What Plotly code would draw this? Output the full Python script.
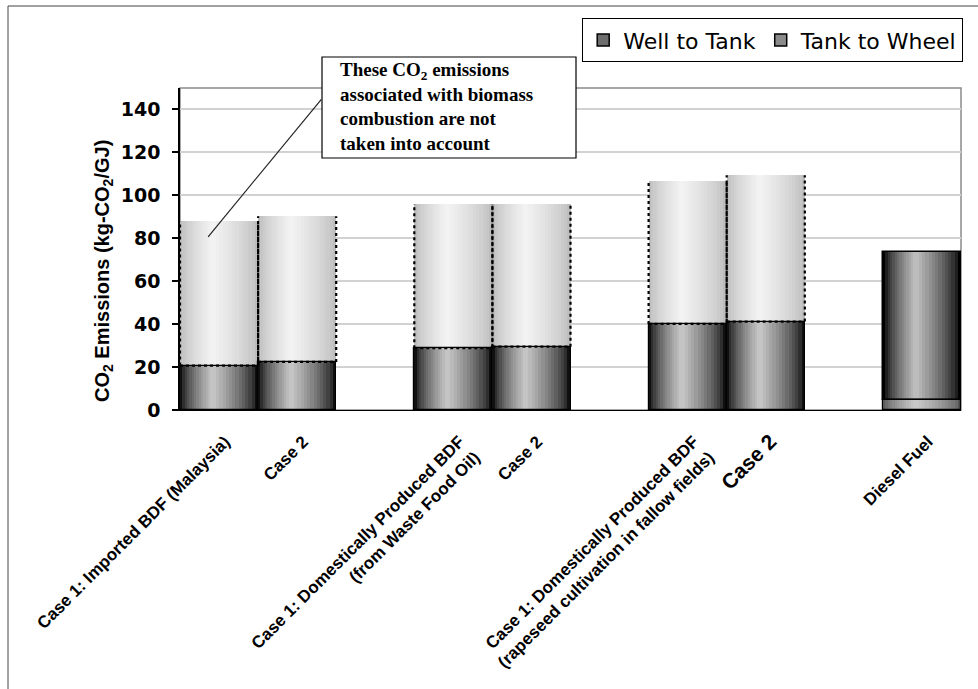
import plotly.graph_objects as go

# ---------------- data ----------------
groups = [
    ["Case 1: Imported BDF (Malaysia)", "Case 2"],
    ["Case 1: Domestically Produced BDF<br>(from Waste Food Oil)", "Case 2"],
    ["Case 1: Domestically Produced BDF<br>(rapeseed cultivation in fallow fields)",
     "<span style=\"font-size:21px\">Case 2</span>"],
    ["Diesel Fuel"],
]
well_to_tank = [20.7, 22.4, 28.8, 29.5, 40.1, 41.2, 4.8]
tank_to_wheel = [67.2, 67.8, 67.2, 66.5, 66.8, 68.1, 68.6]
biomass = [True, True, True, True, True, True, False]
y_ticks = [0, 20, 40, 60, 80, 100, 120, 140]

# ---------------- layout helpers ----------------
labels, xs = [], []
slot = 0
for g in groups:
    for lab in g:
        labels.append(lab)
        xs.append(slot)
        slot += 1
    slot += 1  # empty slot between groups
last_slot = max(xs)

totals = [a + b for a, b in zip(well_to_tank, tank_to_wheel)]


def hex2rgb(h):
    h = h.lstrip("#")
    return tuple(int(h[i:i + 2], 16) for i in (0, 2, 4))


def mix(c1, c2, t):
    a, b = hex2rgb(c1), hex2rgb(c2)
    return "rgb(%d,%d,%d)" % tuple(round(a[i] + (b[i] - a[i]) * t) for i in range(3))


N_LAYERS = 14
SPOT = 0.42  # horizontal position of highlight in each bar

# edge / centre colours per bar for each series (gradient imitation)
wtt_edge = ["#101010"] * 6 + ["#5a5a5a"]
wtt_centre = ["#c4c4c4"] * 6 + ["#c8c8c8"]
ttw_edge = ["#bdbdbd"] * 6 + ["#000000"]
ttw_centre = ["#f2f2f2"] * 6 + ["#bcbcbc"]

fig = go.Figure()


def add_gradient(y, base, edges, centres, name):
    for k in range(N_LAYERS):
        w = 1.0 - k / N_LAYERS
        t = (k / (N_LAYERS - 1)) ** 0.7
        cols = [mix(e, c, t) for e, c in zip(edges, centres)]
        fig.add_trace(go.Bar(
            x=xs, y=y, base=base, width=w, offset=-0.5 + (1 - w) * SPOT,
            marker=dict(color=cols, line=dict(width=0)),
            showlegend=False, hoverinfo="skip", name=name,
        ))


add_gradient(well_to_tank, [0] * len(xs), wtt_edge, wtt_centre, "Well to Tank")
add_gradient(tank_to_wheel, well_to_tank, ttw_edge, ttw_centre, "Tank to Wheel")

# outlines
fig.add_trace(go.Bar(
    x=xs, y=well_to_tank, base=[0] * len(xs), width=1.0,
    marker=dict(color="rgba(0,0,0,0)", line=dict(color="black", width=1.2)),
    showlegend=False, hoverinfo="skip",
))
fig.add_trace(go.Bar(
    x=xs, y=tank_to_wheel, base=well_to_tank, width=1.0,
    marker=dict(color="rgba(0,0,0,0)",
                line=dict(color=["rgba(0,0,0,0)" if b else "black" for b in biomass], width=1.5)),
    showlegend=False, hoverinfo="skip",
))

# dotted outlines for biomass combustion part
dx, dy = [], []
for x, w, t, b in zip(xs, well_to_tank, totals, biomass):
    if not b:
        continue
    dx += [x - 0.5, x - 0.5, None, x + 0.5, x + 0.5, None, x - 0.5, x + 0.5, None]
    dy += [w, t, None, w, t, None, w, w, None]
fig.add_trace(go.Scatter(x=dx, y=dy, mode="lines",
                         line=dict(color="black", width=2.2, dash="dot"),
                         showlegend=False, hoverinfo="skip"))

# legend-only entries
fig.add_trace(go.Bar(x=[None], y=[None], name="Well to Tank",
                     marker=dict(color="#6e6e6e", line=dict(color="black", width=1.5))))
fig.add_trace(go.Bar(x=[None], y=[None], name="Tank to Wheel",
                     marker=dict(color="#8a8a8a", line=dict(color="black", width=1.5))))

L, R, T, B = 180, 17, 88, 279
W, H = 978, 689
pw, ph = W - L - R, H - T - B


def px(xp):
    return (xp - L) / pw


def py(yp):
    return (H - B - yp) / ph


shapes = [
    # outer frame of the figure
    dict(type="rect", xref="paper", yref="paper", x0=px(8), x1=px(1000), y0=py(720), y1=py(6),
         line=dict(color="#444", width=1), fillcolor="rgba(0,0,0,0)", layer="below"),
    # plot area frame
    dict(type="rect", xref="paper", yref="paper", x0=0, x1=1, y0=0, y1=1,
         line=dict(color="#8a8a8a", width=1.5), layer="below"),
    # callout box
    dict(type="rect", xref="paper", yref="paper", x0=px(322), x1=px(576), y0=py(158), y1=py(57),
         line=dict(color="black", width=1.2), fillcolor="white", layer="above"),
    # callout pointer
    dict(type="line", xref="x", yref="y", x0=-0.14, y0=80.7, x1=1.31, y1=144.7,
         line=dict(color="#222", width=1.2), layer="above"),
]

callout_text = ("<b>These CO<sub>2</sub> emissions<br>associated with biomass<br>"
                "combustion are not<br>taken into account</b>")
annotations = [
    dict(xref="paper", yref="paper", x=px(338), y=py(107), xanchor="left", yanchor="middle",
         align="left", text=callout_text, showarrow=False,
         font=dict(family="Liberation Serif", size=19, color="black")),
    dict(xref="paper", yref="paper", x=px(103), y=py(271), textangle=-90,
         xanchor="center", yanchor="middle", showarrow=False,
         text="<b>CO<sub>2</sub> Emissions (kg-CO<sub>2</sub>/GJ)</b>",
         font=dict(family="Liberation Sans", size=20, color="black")),
]

fig.update_layout(
    width=W, height=H, margin=dict(l=L, r=R, t=T, b=B),
    paper_bgcolor="white", plot_bgcolor="white",
    barmode="overlay", bargap=0,
    shapes=shapes, annotations=annotations,
    legend=dict(orientation="h", x=px(963), xanchor="right", y=py(18), yanchor="top",
                bordercolor="black", borderwidth=1.2, bgcolor="white",
                font=dict(family="DejaVu Sans", size=22, color="black"),
                itemwidth=30, tracegroupgap=0),
    xaxis=dict(range=[-0.5, last_slot + 0.5], tickmode="array", tickvals=xs, ticktext=labels,
               tickangle=-45, showgrid=False, showline=True, linecolor="black", linewidth=1.2,
               ticks="", zeroline=False, ticklabelstandoff=14, ticklabelshift=6,
               tickfont=dict(family="Liberation Sans", size=17, color="black", weight="bold")),
    yaxis=dict(range=[0, 150], tickmode="array", tickvals=y_ticks, showgrid=True,
               gridcolor="#d2d2d2", gridwidth=1.5, showline=True, linecolor="black",
               linewidth=1.5, ticks="outside", ticklen=6, tickcolor="black", tickwidth=1.5,
               ticklabelstandoff=8, zeroline=False,
               tickfont=dict(family="DejaVu Sans", size=19, color="black", weight="bold")),
)

fig.write_html("out.html")
